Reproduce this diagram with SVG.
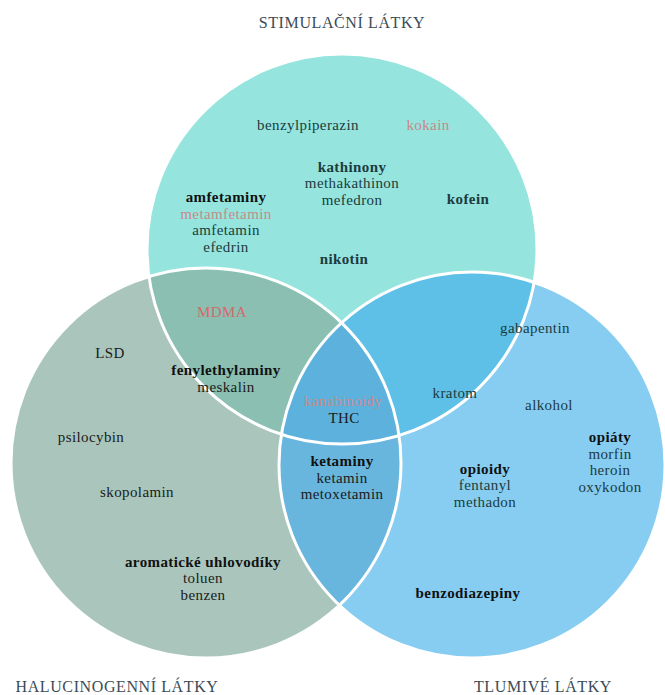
<svg xmlns="http://www.w3.org/2000/svg" width="665" height="695" viewBox="0 0 665 695">
<defs>
<clipPath id="clipA"><circle cx="342" cy="249" r="195"/></clipPath>
<clipPath id="clipB"><circle cx="206" cy="463" r="195"/></clipPath>
</defs>
<style>
text{font-family:"Liberation Serif","Times New Roman",serif;font-size:15px;letter-spacing:0.4px;text-anchor:middle;fill:#1c3b40}
.b{font-weight:bold;fill:#111}
.bt{font-weight:bold;fill:#1c3b40}
.p{fill:#c68a88}
.r{fill:#d46a6a}
.k{fill:#1a1a1a}
.t{fill:#3b4c56;font-size:16px;letter-spacing:0.6px}
.sep{fill:none;stroke:#fff;stroke-width:3}
</style>
<rect width="665" height="695" fill="#fff"/>
<g id="circles">
<circle cx="342" cy="249" r="195" fill="#95e5de"/>
<circle cx="206" cy="463" r="195" fill="#aac6bc"/>
<circle cx="472" cy="465" r="193" fill="#86cdf1"/>
<circle cx="206" cy="463" r="195" fill="#8abfb2" clip-path="url(#clipA)"/>
<circle cx="472" cy="465" r="193" fill="#5ec0e7" clip-path="url(#clipA)"/>
<circle cx="472" cy="465" r="193" fill="#68b5dd" clip-path="url(#clipB)"/>
<g clip-path="url(#clipB)"><circle cx="472" cy="465" r="193" fill="#5cb2dd" clip-path="url(#clipA)"/></g>
<circle class="sep" cx="342" cy="249" r="195"/>
<circle class="sep" cx="206" cy="463" r="195"/>
<circle class="sep" cx="472" cy="465" r="193"/>
</g>
<g id="titles">
<text class="t" x="342" y="28">STIMULAČNÍ LÁTKY</text>
<text class="t" x="117" y="692">HALUCINOGENNÍ LÁTKY</text>
<text class="t" x="543" y="692">TLUMIVÉ LÁTKY</text>
</g>
<g id="stimulants">
<text x="308" y="130">benzylpiperazin</text>
<text class="p" x="428" y="130">kokain</text>
<text class="bt" x="352" y="171.5">kathinony</text>
<text x="352" y="188">methakathinon</text>
<text x="352" y="204.5">mefedron</text>
<text class="b" x="226" y="202">amfetaminy</text>
<text class="p" x="226" y="218.5">metamfetamin</text>
<text x="226" y="235">amfetamin</text>
<text x="226" y="251.5">efedrin</text>
<text class="bt" x="468" y="204">kofein</text>
<text class="bt" x="344" y="264">nikotin</text>
</g>
<g id="stim-hal">
<text class="r" x="222" y="317">MDMA</text>
<text class="b" x="226" y="375">fenylethylaminy</text>
<text class="k" x="226" y="391.5">meskalin</text>
</g>
<g id="hallucinogens">
<text class="k" x="110" y="358">LSD</text>
<text class="k" x="91" y="442">psilocybin</text>
<text class="k" x="137" y="497">skopolamin</text>
<text class="b" x="203" y="566.5">aromatické uhlovodíky</text>
<text class="k" x="203" y="583">toluen</text>
<text class="k" x="203" y="599.5">benzen</text>
</g>
<g id="all-three">
<text class="p" x="343" y="406">kanabinoidy</text>
<text class="k" x="344" y="422.5">THC</text>
</g>
<g id="hal-dep">
<text class="b" x="342" y="466">ketaminy</text>
<text class="k" x="342" y="482.5">ketamin</text>
<text class="k" x="342" y="499">metoxetamin</text>
</g>
<g id="stim-dep">
<text x="535" y="333">gabapentin</text>
<text x="455" y="398">kratom</text>
</g>
<g id="depressants">
<text x="549" y="410">alkohol</text>
<text class="b" x="610" y="442">opiáty</text>
<text x="610" y="458.5">morfin</text>
<text x="610" y="475">heroin</text>
<text x="610" y="491.5">oxykodon</text>
<text class="b" x="485" y="473.5">opioidy</text>
<text x="485" y="490">fentanyl</text>
<text x="485" y="506.5">methadon</text>
<text class="b" x="468" y="598">benzodiazepiny</text>
</g>
</svg>
